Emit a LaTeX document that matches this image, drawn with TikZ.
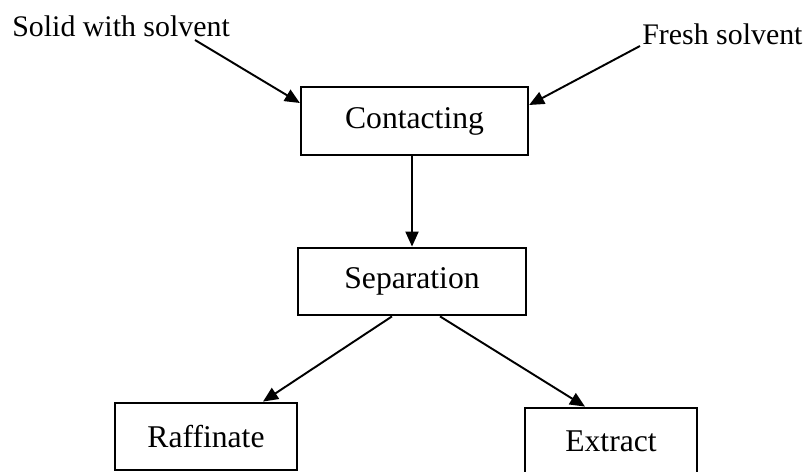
\documentclass[tikz,border=0pt]{standalone}
\usepackage{fontspec}
\setmainfont{Liberation Serif}
\usetikzlibrary{arrows.meta}
\tikzset{
unit/.style={draw, line width=1.3pt, minimum height=1.35cm, inner sep=0pt, font=\fontsize{18}{21}\selectfont},
flow/.style={line width=1.1pt, -{Triangle[length=0.3cm,width=0.26cm]}}
}
\begin{document}
\begin{tikzpicture}[font=\fontsize{17}{20}\selectfont]
\useasboundingbox (0,0) rectangle (16.22,9.44);
% process boxes
\node[unit, minimum width=4.54cm] (con) at (8.29,7.02) {Contacting};
\node[unit, minimum width=4.56cm] (sep) at (8.24,3.81) {Separation};
\node[unit, minimum width=3.64cm] (raf) at (4.12,0.71) {Raffinate};
\node[unit, minimum width=3.44cm] (ext) at (12.22,0.61) {Extract};
% feeds
\node[anchor=base west, inner sep=0pt] (solid) at (0.24,8.70) {Solid with solvent};
\node[anchor=base west, inner sep=0pt] (fresh) at (12.84,8.54) {Fresh solvent};
\coordinate (solidend) at (3.90,8.64);
\coordinate (freshend) at (12.80,8.52);
\draw[flow] (solidend) -- ([yshift=0.36cm]con.west);
\draw[flow] (freshend) -- ([yshift=0.32cm]con.east);
\draw[flow] (con.south -| sep.north) -- (sep.north);
\draw[flow] ([xshift=-0.4cm]sep.south) -- ([xshift=1.14cm]raf.north);
\draw[flow] ([xshift=0.56cm]sep.south) -- ([xshift=-0.52cm]ext.north);
\end{tikzpicture}
\end{document}
